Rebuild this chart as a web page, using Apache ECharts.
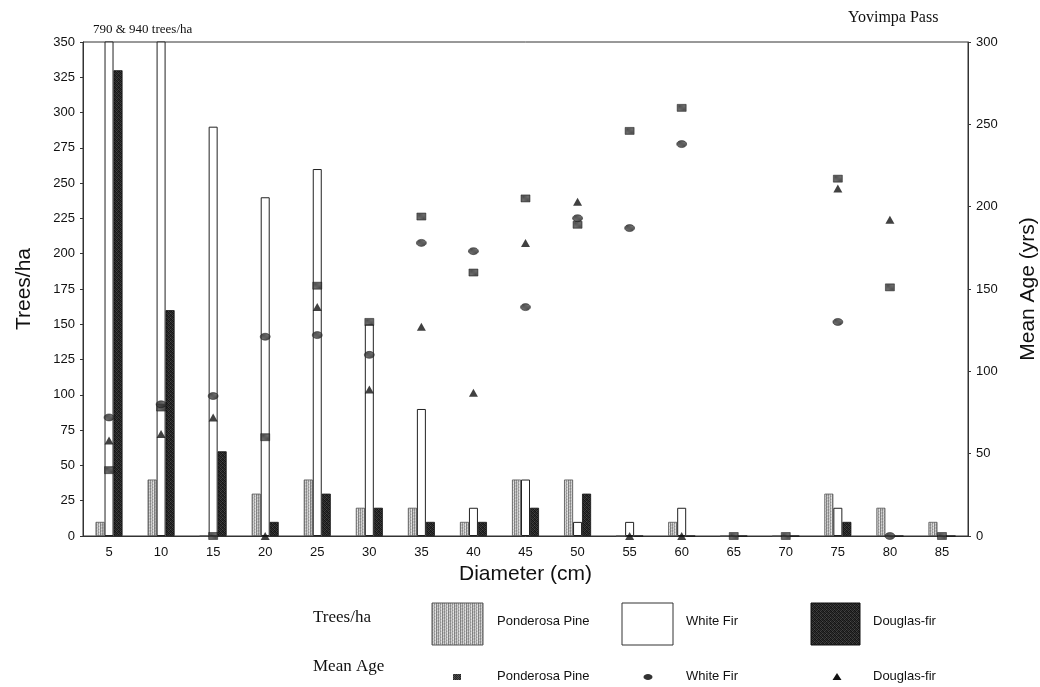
<!DOCTYPE html>
<html>
<head>
<meta charset="utf-8">
<script src="https://cdn.jsdelivr.net/npm/echarts@6/dist/echarts.min.js"></script>
<style>
html,body{margin:0;padding:0;background:#fff;}
#chart{width:1040px;height:687px;}
</style>
</head>
<body>
<div id="chart"></div>
<script>
// ---- data ----
const diameters = ['5','10','15','20','25','30','35','40','45','50','55','60','65','70','75','80','85'];
const pineTrees    = [10, 40, 0, 30, 40, 20, 20, 10, 40, 40, 0, 10, 0, 0, 30, 20, 10];
const whiteFirTrees = [790, 940, 290, 240, 260, 150, 90, 20, 40, 10, 10, 20, 0, 0, 20, 0, 0];
const douglasTrees = [330, 160, 60, 10, 30, 20, 10, 10, 20, 30, 0, 0, 0, 0, 10, 0, 0];
const pineAge    = [40, 78, 0, 60, 152, 130, 194, 160, 205, 189, 246, 260, 0, 0, 217, 151, 0];
const whiteFirAge = [72, 80, 85, 121, 122, 110, 178, 173, 139, 193, 187, 238, null, null, 130, 0, null];
const douglasAge = [58, 62, 72, 0, 139, 89, 127, 87, 178, 203, 0, 0, null, null, 211, 192, null];
const leftTicks = {min: 0, max: 350, interval: 25};
const rightTicks = {min: 0, max: 300, interval: 50};

// ---- patterns ----
function stripePattern(cols, rows) {
  const c = document.createElement('canvas');
  c.width = cols[0].length; c.height = rows;
  const ctx = c.getContext('2d');
  for (let y = 0; y < rows; y++) {
    const row = cols[y % cols.length];
    for (let x = 0; x < row.length; x++) {
      ctx.fillStyle = row[x];
      ctx.fillRect(x, y, 1, 1);
    }
  }
  return {image: c, repeat: 'repeat'};
}
const pinePat = stripePattern([
  ['#8c8c8c','#cfcfcf','#a0a0a0','#e0e0e0','#7c7c7c','#c0c0c0'],
  ['#9a9a9a','#d8d8d8','#8e8e8e','#cccccc','#8a8a8a','#d4d4d4'],
  ['#888888','#c4c4c4','#a8a8a8','#e4e4e4','#808080','#bcbcbc']
], 3);
const douglasPat = stripePattern([
  ['#161616','#383838','#1a1a1a','#2e2e2e'],
  ['#303030','#121212','#484848','#1e1e1e'],
  ['#1e1e1e','#3c3c3c','#141414','#343434'],
  ['#444444','#1a1a1a','#2a2a2a','#121212']
], 4);
const markPat = stripePattern([
  ['#222222','#555555','#2a2a2a','#4a4a4a'],
  ['#4c4c4c','#262626','#5a5a5a','#222222']
], 2);

const chart = echarts.init(document.getElementById('chart'), null, {renderer: 'canvas'});
const sans = 'Liberation Sans, Arial, sans-serif';
const serif = 'Liberation Serif, Times New Roman, serif';

const option = {
  backgroundColor: '#ffffff',
  animation: false,
  grid: {left: 83, right: 72, top: 42, bottom: 151, containLabel: false, outerBoundsMode: 'none',
         show: true, borderColor: '#333', borderWidth: 1, backgroundColor: 'transparent'},
  xAxis: {
    type: 'category', data: diameters, boundaryGap: true,
    axisLine: {lineStyle: {color: '#333'}},
    axisTick: {show: false},
    axisLabel: {color: '#111', fontFamily: sans, fontSize: 13, margin: 10},
    name: 'Diameter (cm)', nameLocation: 'middle', nameGap: 28,
    nameTextStyle: {color: '#111', fontFamily: sans, fontSize: 21}
  },
  yAxis: [{
    type: 'value', min: leftTicks.min, max: leftTicks.max, interval: leftTicks.interval,
    axisLine: {show: true, lineStyle: {color: '#333'}},
    axisTick: {show: true, length: 3, lineStyle: {color: '#333'}},
    axisLabel: {color: '#111', fontFamily: sans, fontSize: 13, margin: 8},
    splitLine: {show: false},
    name: 'Trees/ha', nameLocation: 'middle', nameRotate: 90, nameGap: 48,
    nameTextStyle: {color: '#111', fontFamily: sans, fontSize: 21}
  }, {
    type: 'value', position: 'right', min: rightTicks.min, max: rightTicks.max, interval: rightTicks.interval,
    axisLine: {show: true, lineStyle: {color: '#333'}},
    axisTick: {show: true, length: 3, lineStyle: {color: '#333'}},
    axisLabel: {color: '#111', fontFamily: sans, fontSize: 13, margin: 8},
    splitLine: {show: false},
    name: 'Mean Age (yrs)', nameLocation: 'middle', nameRotate: 90, nameGap: 50,
    nameTextStyle: {color: '#111', fontFamily: sans, fontSize: 21}
  }],
  series: [
    {name: 'Ponderosa Pine', type: 'bar', data: pineTrees, barWidth: 9, barGap: '0%',
     itemStyle: {color: pinePat, borderColor: '#555', borderWidth: 0.8}},
    {name: 'White Fir', type: 'bar', data: whiteFirTrees, barWidth: 9, barGap: '0%',
     itemStyle: {color: '#ffffff', borderColor: '#222', borderWidth: 1}},
    {name: 'Douglas-fir', type: 'bar', data: douglasTrees, barWidth: 9, barGap: '0%',
     itemStyle: {color: douglasPat, borderColor: '#111', borderWidth: 0.8}},
    {name: 'Ponderosa Pine Age', type: 'scatter', yAxisIndex: 1, data: pineAge,
     symbol: 'rect', symbolSize: [9, 7], itemStyle: {color: markPat, borderColor: '#111', borderWidth: 0.6}, z: 5},
    {name: 'White Fir Age', type: 'scatter', yAxisIndex: 1, data: whiteFirAge,
     symbol: 'circle', symbolSize: [10, 7], itemStyle: {color: markPat, borderColor: '#111', borderWidth: 0.6}, z: 5},
    {name: 'Douglas-fir Age', type: 'scatter', yAxisIndex: 1, data: douglasAge,
     symbol: 'triangle', symbolSize: [9, 8], itemStyle: {color: '#111'}, z: 5}
  ],
  graphic: [
    {type: 'text', left: 848, top: 10, style: {text: 'Yovimpa Pass', font: '16px ' + serif, fill: '#111'}},
    {type: 'text', left: 93, top: 23, style: {text: '790 & 940 trees/ha', font: '13px ' + serif, fill: '#111'}},
    // legend row 1
    {type: 'text', left: 313, top: 609, style: {text: 'Trees/ha', font: '17px ' + serif, fill: '#111'}},
    {type: 'rect', shape: {x: 432, y: 603, width: 51, height: 42}, style: {fill: pinePat, stroke: '#555', lineWidth: 1}},
    {type: 'text', left: 497, top: 615, style: {text: 'Ponderosa Pine', font: '13px ' + sans, fill: '#111'}},
    {type: 'rect', shape: {x: 622, y: 603, width: 51, height: 42}, style: {fill: '#fff', stroke: '#333', lineWidth: 1}},
    {type: 'text', left: 686, top: 615, style: {text: 'White Fir', font: '13px ' + sans, fill: '#111'}},
    {type: 'rect', shape: {x: 811, y: 603, width: 49, height: 42}, style: {fill: douglasPat, stroke: '#111', lineWidth: 1}},
    {type: 'text', left: 873, top: 615, style: {text: 'Douglas-fir', font: '13px ' + sans, fill: '#111'}},
    // legend row 2
    {type: 'text', left: 313, top: 658, style: {text: 'Mean Age', font: '17px ' + serif, fill: '#111'}},
    {type: 'rect', shape: {x: 453, y: 674, width: 8, height: 6}, style: {fill: markPat}},
    {type: 'text', left: 497, top: 670, style: {text: 'Ponderosa Pine', font: '13px ' + sans, fill: '#111'}},
    {type: 'ellipse', shape: {cx: 648, cy: 677, rx: 4.5, ry: 3}, style: {fill: '#333'}},
    {type: 'text', left: 686, top: 670, style: {text: 'White Fir', font: '13px ' + sans, fill: '#111'}},
    {type: 'polygon', shape: {points: [[837, 673], [841.5, 680], [832.5, 680]]}, style: {fill: '#111'}},
    {type: 'text', left: 873, top: 670, style: {text: 'Douglas-fir', font: '13px ' + sans, fill: '#111'}}
  ]
};
chart.setOption(option);
</script>
</body>
</html>
